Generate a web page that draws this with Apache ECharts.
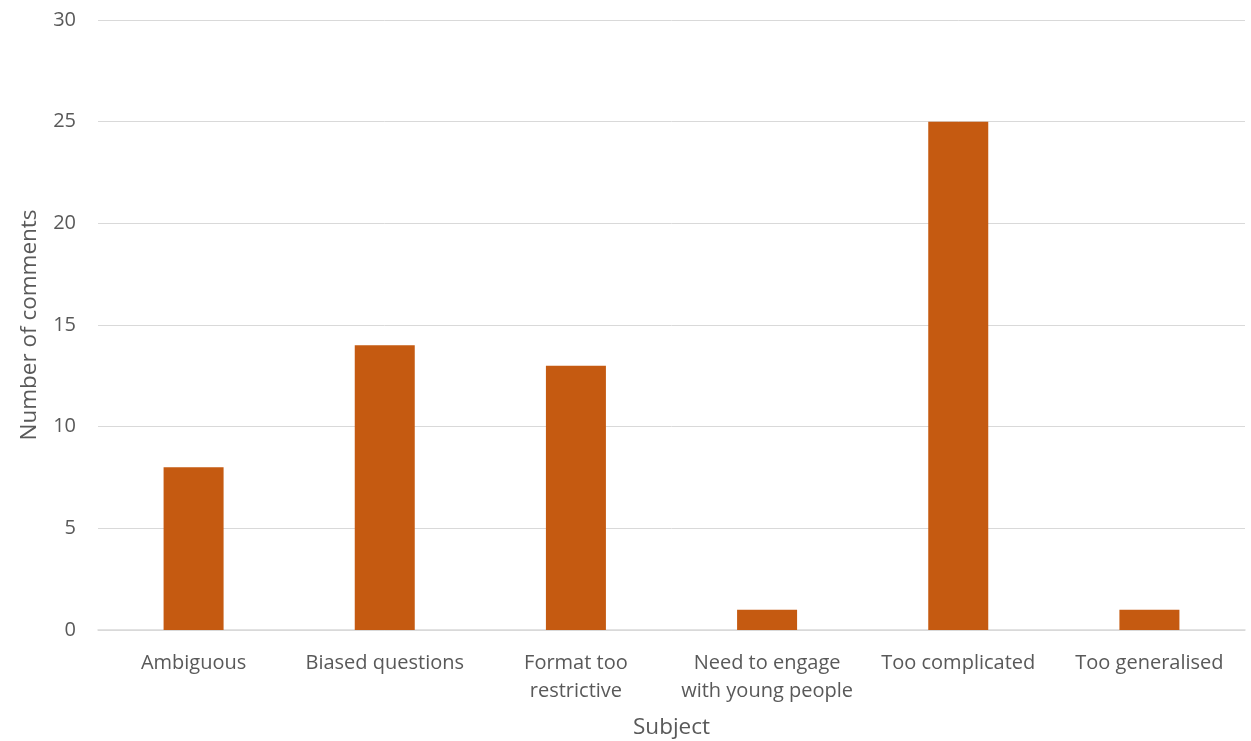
<!DOCTYPE html>
<html><head><meta charset="utf-8">
<script src="https://cdn.jsdelivr.net/npm/echarts@6/dist/echarts.min.js"></script>
<style>html,body{margin:0;padding:0;background:#fff}#c{width:1251px;height:741px}</style>
</head><body><div id="c"></div>
<script>
const categories = ["Ambiguous","Biased questions","Format too\nrestrictive","Need to engage\nwith young people","Too complicated","Too generalised"];
const comments = [8,14,13,1,25,1];
const yTicks = [0,5,10,15,20,25,30];

const chart = echarts.init(document.getElementById('c'));
const font = "'Open Sans', 'Liberation Sans', sans-serif";
chart.setOption({
  animation:false,
  grid:{left:98,right:6,top:20,bottom:111,containLabel:false,outerBoundsMode:'none'},
  xAxis:{type:'category',data:categories,
    name:'Subject',nameLocation:'middle',nameGap:86,
    nameTextStyle:{color:'#595959',fontSize:22.5,fontFamily:font},
    axisLine:{lineStyle:{color:'#D9D9D9',width:1.5}},axisTick:{show:false},
    axisLabel:{color:'#595959',fontSize:20,fontFamily:font,margin:19,lineHeight:28,interval:0}},
  yAxis:{type:'value',min:yTicks[0],max:yTicks[yTicks.length-1],interval:5,
    name:'Number of comments',nameLocation:'middle',nameGap:57,
    nameTextStyle:{color:'#595959',fontSize:22.5,fontFamily:font},
    axisLine:{show:false},axisTick:{show:false},
    splitLine:{lineStyle:{color:'#D9D9D9',width:1}},
    axisLabel:{color:'#595959',fontSize:20,fontFamily:font,margin:22}},
  series:[{type:'bar',data:comments,barWidth:60,itemStyle:{color:'#C55A11'}}]
});
</script></body></html>
